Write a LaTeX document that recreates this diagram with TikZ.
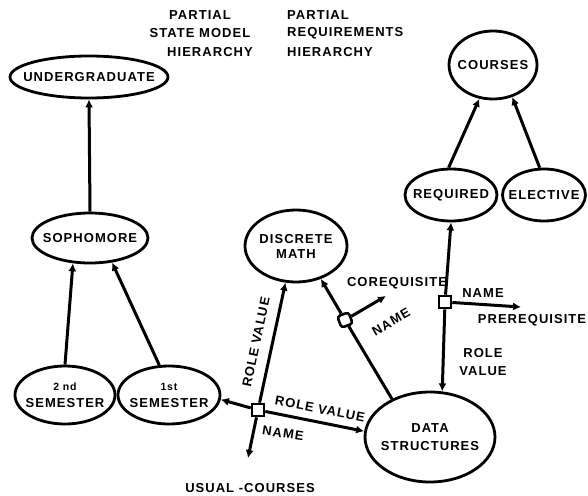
\documentclass[tikz,border=0pt]{standalone}
\usepackage{fontspec}
\newfontfamily\lblfont{Liberation Sans}[LetterSpace=8]
\usetikzlibrary{shapes.geometric,arrows.meta}
\begin{document}
\begin{tikzpicture}[x=1pt,y=-1pt,
  every node/.style={font=\lblfont\bfseries\fontsize{13}{15}\selectfont,inner sep=1pt},
  cls/.style={ellipse,draw,line width=2.8pt,inner sep=0pt},
  txt/.style={label={[align=center,inner sep=0pt]center:#1}},
  lnk/.style={line width=3pt,-{Latex[length=8pt,width=8pt]}},
  ln/.style={line width=3pt},
  sq/.style={draw,fill=white,line width=2.6pt,minimum size=12pt,inner sep=0pt}
]
\useasboundingbox (0,0) rectangle (588,495);

% header
\node (h1) at (200,15) {PARTIAL};
\node (h2) at (200,33) {STATE MODEL};
\node (h3) at (210,52) {HIERARCHY};
\node[anchor=west] (h4) at (286,15) {PARTIAL};
\node[anchor=west] (h5) at (286,33) {REQUIREMENTS};
\node[anchor=west] (h6) at (286,52) {HIERARCHY};

% classes
\node[cls,minimum width=158pt,minimum height=42pt,txt={UNDERGRADUATE}] (ug) at (89,77) {};
\node[cls,minimum width=116pt,minimum height=50pt,txt={SOPHOMORE}] (soph) at (90,238) {};
\node[cls,minimum width=100pt,minimum height=58pt,txt={{\fontsize{10.5}{11}\selectfont 2 nd}\\[2pt]SEMESTER}] (sem2) at (65,395) {};
\node[cls,minimum width=102pt,minimum height=58pt,txt={{\fontsize{10.5}{11}\selectfont 1st}\\[2pt]SEMESTER}] (sem1) at (169,395) {};
\node[cls,minimum width=102pt,minimum height=72pt,txt={DISCRETE\\[0pt]MATH}] (dm) at (296,246) {};
\node[cls,minimum width=130pt,minimum height=90pt,txt={DATA\\[3pt]STRUCTURES}] (ds) at (430,437) {};
\node[cls,minimum width=88pt,minimum height=68pt,txt={COURSES}] (courses) at (493,65) {};
\node[cls,minimum width=92pt,minimum height=52pt,txt={REQUIRED}] (req) at (451,195) {};
\node[cls,minimum width=83pt,minimum height=52pt,txt={ELECTIVE}] (elec) at (544,195) {};

% link boxes
\node[sq] (q1) at (258,410) {};
\node[sq,rounded corners=3pt,rotate=20] (q2) at (345,320) {};
\node[sq] (q3) at (445,302) {};

% text targets
\node (usual) at (250,488) {USUAL -COURSES};
\node (coreq) at (397,283) {COREQUISITE};
\node (prereq) at (532,320) {PREREQUISITE};
\coordinate (uend) at (248,458);
\coordinate (cend) at (386,296);
\coordinate (pend) at (521,307);

% hierarchy edges
\draw[lnk] (soph.north) -- (ug.south);
\draw[lnk] (sem2.north) -- (soph.236);
\draw[lnk] (sem1.108) -- (soph.312);
\draw[lnk] (req.95) -- (courses.248);
\draw[lnk] (elec.99) -- (courses.301);

% role links
\draw[lnk] (q1) -- (sem1.355);
\draw[lnk] (q1) -- (dm.254);
\draw[lnk] (q1) -- (ds.175);
\draw[lnk] (q1) -- (uend);
\draw[ln] (ds.135) -- (q2);
\draw[lnk] (q2) -- (dm.307);
\draw[lnk] (q2) -- (cend);
\draw[lnk] (q3) -- (req.south);
\draw[lnk] (q3) -- (ds.75);
\draw[lnk] (q3) -- (pend);

% labels
\node[rotate=78] (l1) at (256,342) {ROLE VALUE};
\node[rotate=-11] (l2) at (320,409) {ROLE VALUE};
\node[rotate=-8] (l3) at (283,433) {NAME};
\node[rotate=30] (l4) at (391,322) {NAME};
\node (l5) at (483,293) {NAME};
\node[align=center] (l6) at (483,362) {ROLE\\[3pt]VALUE};
\end{tikzpicture}
\end{document}
